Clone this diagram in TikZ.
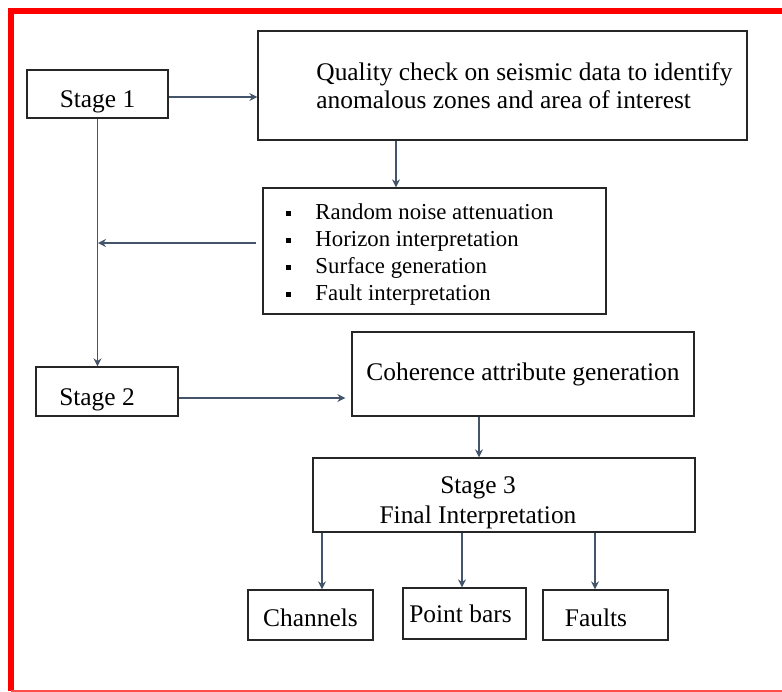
\documentclass[tikz,border=0pt]{standalone}
\usepackage{fontspec}
\setmainfont{Liberation Serif}
\usepackage{tikz}
\usetikzlibrary{positioning,arrows.meta,calc}
\definecolor{linkcolor}{RGB}{68,84,106}
\definecolor{framecolor}{RGB}{255,0,0}
\tikzset{
    flow box/.style={rectangle, draw=black!85, line width=0.65pt, inner sep=0pt, font=\fontsize{12.7}{14}\selectfont},
    list box/.style={flow box, font=\fontsize{11.4}{13.5}\selectfont},
    flow arrow/.style={-{Stealth[length=4pt,width=4pt]}, draw=linkcolor, line width=0.65pt},
    frame line/.style={draw=framecolor, line width=3pt}
}
% baseline placed at a fixed distance from the box centre
\newcommand{\setline}[2]{\raisebox{#1}[0pt][0pt]{#2}}
\newcommand{\sqbullet}{\rule[1.6pt]{2.5pt}{2.5pt}\hspace{12.25pt}}

\begin{document}
\begin{tikzpicture}[x=0.5pt, y=-0.5pt]
    \useasboundingbox (0,0) rectangle (782,691);

    % Red frame
    \draw[frame line] (11,691) -- (11,11) -- (782,11);
    \draw[framecolor!70, line width=1pt] (11,690.5) -- (782,690.5);

    % Stage 1 and quality check
    \node[flow box, minimum width=70.5pt, minimum height=24pt] (stage1) at (97.5,94) {\setline{-6.5pt}{Stage 1}};
    \node[flow box, minimum width=244.5pt, minimum height=54.5pt] (quality) at (502.5,85.5)
        {\setline{2.75pt}{\begin{tabular}[t]{@{\hspace{22pt}}l@{}}Quality check on seismic data to identify\\anomalous zones and area of interest\end{tabular}}};
    \draw[flow arrow] ([yshift=-1.5pt]stage1.east) -- ([yshift=-1.5pt]stage1.east -| quality.west);

    % Processing steps
    \node[list box, minimum width=171.5pt, minimum height=63pt] (tasks) at (434.5,251)
        {\setline{16pt}{\begin{tabular}[t]{@{}l@{\hspace{14.75pt}}}\sqbullet Random noise attenuation\\\sqbullet Horizon interpretation\\\sqbullet Surface generation\\\sqbullet Fault interpretation\end{tabular}}};
    \coordinate (qdrop) at (396,0);
    \draw[flow arrow] (quality.south -| qdrop) -- (tasks.north -| qdrop);

    % Stage 2 and the trunk line
    \node[flow box, minimum width=71pt, minimum height=24.5pt] (stage2) at (107,391.5) {\setline{-6.75pt}{Stage 2\hspace*{10pt}}};
    \draw[flow arrow] (stage1.south) -- (stage1.south |- stage2.north);
    \coordinate (trunk) at (98,243);
    \draw[flow arrow, shorten <=3pt] (tasks.west |- trunk) -- (trunk);

    % Coherence attribute
    \node[flow box, minimum width=171pt, minimum height=42pt] (coherence) at (523,374) {\setline{-3pt}{Coherence attribute generation}};
    \coordinate (s2link) at (0,398);
    \draw[flow arrow, shorten >=3pt] (stage2.east |- s2link) -- (coherence.west |- s2link);

    % Stage 3
    \node[flow box, minimum width=191pt, minimum height=37pt] (stage3) at (504,495)
        {\setline{1pt}{\begin{tabular}[t]{@{}c@{\hspace{26pt}}}Stage 3\\[1pt]Final Interpretation\end{tabular}}};
    \coordinate (cdrop) at (479,0);
    \draw[flow arrow] (coherence.south -| cdrop) -- (stage3.north -| cdrop);

    % Results
    \node[flow box, minimum width=62.5pt, minimum height=25pt] (channels) at (310.5,615) {\setline{-5.5pt}{Channels}};
    \node[flow box, minimum width=61.5pt, minimum height=25.5pt] (pointbars) at (464.5,613.5) {\setline{-4.25pt}{Point bars\hspace*{4pt}}};
    \node[flow box, minimum width=62.5pt, minimum height=25pt] (faults) at (605.5,615) {\setline{-5.5pt}{Faults\hspace*{9.5pt}}};
    \foreach \target/\xpos in {channels/322, pointbars/462, faults/595} {
        \coordinate (drop-\target) at (\xpos,0);
        \draw[flow arrow] (stage3.south -| drop-\target) -- (\target.north -| drop-\target);
    }
\end{tikzpicture}
\end{document}
